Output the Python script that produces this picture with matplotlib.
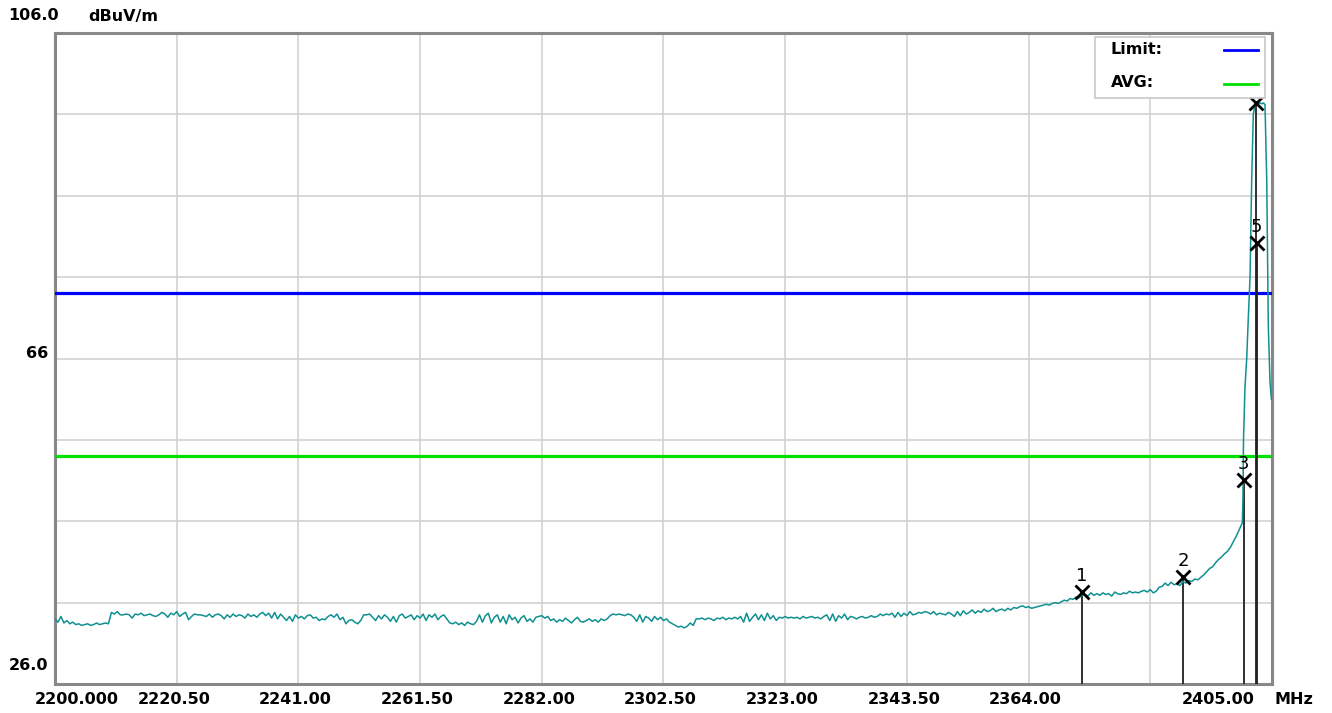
import numpy as np
import matplotlib
matplotlib.use('Agg')
import matplotlib.pyplot as plt
from matplotlib.patches import Rectangle

# sweep / scale settings
f_start = 2200.0
f_stop = 2405.0
f_div = 20.5
y_bottom = 26.0
y_top = 106.0
y_div = 10.0

limit_level = 74.0
avg_level = 54.0

# noise floor, one reading every 0.5 MHz (2200 .. 2399.5)
floor_step = 0.5
floor_levels = [
    34.0, 33.6, 34.3, 33.5, 33.8, 33.4, 33.6, 33.3, 33.4, 33.2, 33.3, 33.4, 33.2, 33.3, 33.5, 33.3, 33.4, 33.5, 33.4, 34.8,
    34.6, 34.9, 34.5, 34.5, 34.6, 34.5, 34.1, 34.6, 34.5, 34.7, 34.4, 34.5, 34.6, 34.4, 34.3, 34.5, 34.8, 34.6, 34.2, 34.7,
    34.5, 34.9, 34.3, 34.6, 34.8, 33.9, 34.3, 34.6, 34.5, 34.5, 34.4, 34.3, 34.6, 34.2, 34.5, 34.6, 34.4, 34.0, 34.5, 34.2,
    34.6, 34.3, 34.5, 34.4, 34.1, 34.6, 34.3, 34.5, 34.2, 34.6, 34.8, 34.4, 34.7, 34.1, 34.8, 34.0, 34.6, 34.2, 33.8, 34.3,
    33.7, 34.5, 34.1, 34.3, 34.0, 34.4, 34.5, 34.1, 34.2, 33.8, 34.0, 33.9, 34.3, 34.5, 34.2, 34.6, 33.9, 34.2, 33.4, 33.8,
    33.9, 33.6, 33.4, 33.8, 34.5, 34.5, 34.6, 34.2, 33.8, 34.4, 34.0, 34.5, 34.2, 33.7, 34.3, 33.6, 34.4, 34.6, 34.1, 34.3,
    34.5, 33.9, 34.4, 34.1, 34.6, 33.8, 34.5, 34.2, 34.6, 33.9, 34.3, 34.5, 34.0, 33.5, 33.4, 33.6, 33.3, 33.5, 33.2, 33.6,
    33.4, 33.3, 33.7, 34.5, 33.6, 34.4, 34.7, 33.5, 34.2, 34.5, 33.6, 34.3, 33.4, 34.5, 33.9, 34.2, 33.5, 34.1, 34.4, 33.7,
    34.0, 33.6, 34.2, 34.3, 34.4, 34.1, 34.3, 33.8, 34.0, 33.6, 33.9, 33.7, 34.1, 33.8, 33.5, 33.9, 34.2, 33.7, 33.6, 33.8,
    34.0, 33.7, 33.9, 33.6, 34.0, 33.8, 34.0, 34.4, 34.6, 34.5, 34.6, 34.5, 34.4, 34.6, 34.5, 34.2, 33.7, 34.5, 33.6, 34.3,
    34.1, 33.7, 34.3, 33.9, 34.2, 33.8, 34.0, 33.6, 33.4, 33.2, 33.0, 33.1, 32.9, 33.1, 33.5, 33.2, 34.0, 34.0, 34.1, 33.9,
    34.1, 34.0, 33.8, 34.1, 34.0, 34.2, 33.9, 34.1, 34.0, 34.2, 34.0, 34.3, 33.6, 34.7, 33.7, 34.2, 34.6, 33.9, 34.5, 33.8,
    34.7, 34.0, 34.4, 33.8, 34.2, 34.1, 34.3, 34.1, 34.2, 34.1, 34.2, 34.0, 34.3, 34.1, 34.2, 34.3, 34.1, 34.2, 34.0, 34.3,
    34.5, 33.8, 34.6, 33.7, 34.4, 34.1, 34.6, 33.9, 34.3, 34.2, 34.0, 34.2, 34.3, 34.1, 34.2, 34.4, 34.2, 34.3, 34.6, 34.4,
    34.6, 34.5, 34.7, 34.2, 34.8, 34.3, 34.7, 34.4, 34.9, 34.5, 34.6, 34.8, 34.7, 34.9, 34.8, 34.6, 34.9, 34.5, 34.7, 34.6,
    34.5, 34.8, 34.6, 34.3, 34.9, 34.4, 35.0, 34.6, 34.8, 35.1, 34.7, 35.0, 34.8, 35.2, 34.9, 35.0, 35.3, 34.9, 35.1, 35.2,
    35.0, 35.3, 35.1, 35.4, 35.3, 35.5, 35.6, 35.4, 35.5, 35.3, 35.4, 35.5, 35.6, 35.7, 35.8, 35.7, 35.9, 36.0, 35.9, 36.1,
    36.3, 36.2, 36.5, 36.4, 36.7, 36.6, 36.9, 37.0, 36.8, 37.2, 36.9, 37.1, 36.9, 37.2, 37.0, 37.1, 36.8, 37.3, 37.1, 37.0,
    37.2, 37.1, 37.4, 37.2, 37.3, 37.2, 37.4, 37.5, 37.3, 37.6, 37.2, 37.4, 37.9, 38.0, 38.4, 38.1, 38.5, 38.2, 38.3, 38.1,
    38.6, 38.4, 38.7, 38.6, 38.9, 38.8, 39.1, 39.4, 39.8, 40.2, 40.4, 40.9, 41.3, 41.6, 42.0, 42.3, 42.8, 43.5, 44.2, 45.0,
]

# carrier at the band edge
peak_freqs = [2400.0, 2400.1, 2400.2, 2400.45, 2400.74, 2401.01, 2401.30, 2401.58, 2401.85, 2402.14,
              2402.42, 2402.70, 2402.98, 2403.26, 2403.54, 2403.82, 2404.11, 2404.38, 2404.67, 2404.9]
peak_levels = [45.8, 48.6, 56.0, 62.5, 66.0, 71.0, 76.0, 88.0, 96.0, 97.2,
               97.4, 97.3, 97.4, 97.3, 97.4, 97.2, 88.0, 70.0, 63.0, 61.0]

# markers
marker_ids = ['1', '2', '3', '4', '5']
marker_freqs = [2373.0, 2390.0, 2400.2, 2402.3, 2402.4]
marker_levels = [37.3, 39.1, 51.1, 97.4, 80.2]

x_tick_labels = ['2200.000', '2220.50', '2241.00', '2261.50', '2282.00',
                 '2302.50', '2323.00', '2343.50', '2364.00']
x_last_label = '2405.00'

trace_color = '#109090'
label_font = dict(fontsize=11.5, fontweight='bold', color='black')

floor_freqs = f_start + floor_step * np.arange(len(floor_levels))
freqs = np.concatenate([floor_freqs, peak_freqs])
levels = np.concatenate([floor_levels, peak_levels])

fig = plt.figure(figsize=(13.32, 7.13), dpi=100)
ax = fig.add_axes([55 / 1332, 29 / 713, 1217 / 1332, 651 / 713])
ax.set_xlim(f_start, f_stop)
ax.set_ylim(y_bottom, y_top)

# grid
xgrid = f_start + f_div * np.arange(1, 10)
ygrid = y_bottom + y_div * np.arange(1, 8)
ax.set_xticks(xgrid)
ax.set_yticks(ygrid)
ax.set_xticklabels([])
ax.set_yticklabels([])
ax.tick_params(length=0)
ax.grid(True, color='#d2d2d2', linewidth=1.2)
for s in ax.spines.values():
    s.set_color('#888888')
    s.set_linewidth(2.2)

# limit lines
ax.axhline(limit_level, color='#0000ff', linewidth=2.3, zorder=3)
ax.axhline(avg_level, color='#00e000', linewidth=2.3, zorder=3)

# marker drop lines
for f, v in zip(marker_freqs, marker_levels):
    ax.plot([f, f], [y_bottom, v], color='#202020', linewidth=1.3, zorder=4)

# trace
ax.plot(freqs, levels, color=trace_color, linewidth=1.1, zorder=5)

# marker symbols and numbers
for mid, f, v in zip(marker_ids, marker_freqs, marker_levels):
    ax.plot(f, v, marker='x', color='black', markersize=9.5, markeredgewidth=2, zorder=6)
    ax.annotate(mid, xy=(f, v), xytext=(0, 16), textcoords='offset pixels',
                ha='center', va='center', fontsize=13, color='black', zorder=6)

# legend box
ax.add_patch(Rectangle((0.8546, 0.900), 0.1396, 0.0939, transform=ax.transAxes,
                       facecolor='white', edgecolor='#c8c8c8', linewidth=1.2, zorder=10))
ax.text(0.8677, 0.9745, 'Limit:', transform=ax.transAxes, ha='left', va='center', zorder=11, **label_font)
ax.text(0.8677, 0.9240, 'AVG:', transform=ax.transAxes, ha='left', va='center', zorder=11, **label_font)
ax.plot([0.9606, 0.9885], [0.9739, 0.9739], transform=ax.transAxes, color='#0000ff', linewidth=2, zorder=11)
ax.plot([0.9606, 0.9885], [0.9216, 0.9216], transform=ax.transAxes, color='#00e000', linewidth=2, zorder=11)

# x labels
for i, lab in enumerate(x_tick_labels):
    f = f_start + f_div * i
    dx = 22 if i == 0 else -3
    ax.annotate(lab, xy=(f, 0), xycoords=('data', 'axes fraction'), xytext=(dx, -15),
                textcoords='offset pixels', ha='center', va='center', **label_font)
ax.annotate(x_last_label, xy=(f_stop, 0), xycoords=('data', 'axes fraction'), xytext=(-17, -15),
            textcoords='offset pixels', ha='right', va='center', **label_font)
ax.annotate('MHz', xy=(1, 0), xycoords='axes fraction', xytext=(3, -15),
            textcoords='offset pixels', ha='left', va='center', **label_font)

# y labels
fig.text(8 / 1332, 1 - 16 / 713, '106.0', ha='left', va='center', **label_font)
fig.text(88 / 1332, 1 - 16 / 713, 'dBuV/m', ha='left', va='center', **label_font)
ax.annotate('66', xy=(0, 66), xycoords=('axes fraction', 'data'), xytext=(-7, 5),
            textcoords='offset pixels', ha='right', va='center', **label_font)
ax.annotate('26.0', xy=(0, y_bottom), xycoords=('axes fraction', 'data'), xytext=(-7, 19),
            textcoords='offset pixels', ha='right', va='center', **label_font)

fig.savefig('out.png', dpi=100)
